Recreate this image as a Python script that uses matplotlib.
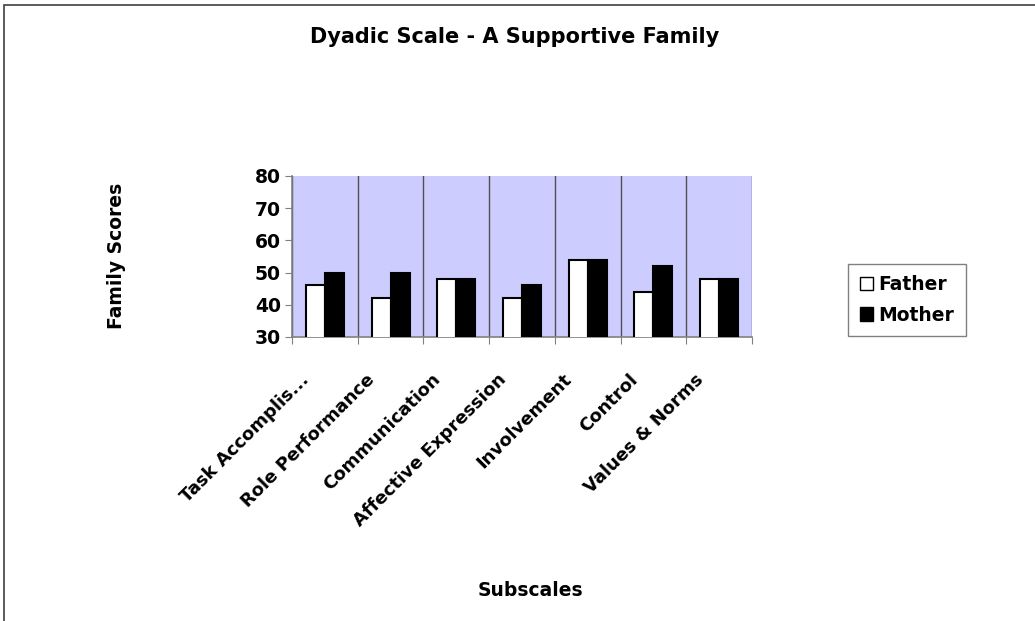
import matplotlib
matplotlib.use("Agg")
import matplotlib.pyplot as plt
import numpy as np
from matplotlib.patches import Patch, Rectangle

# DejaVu Sans Bold is close to the wide Arial rendering of the original
plt.rcParams["font.family"] = ["DejaVu Sans"]
plt.rcParams["font.weight"] = "bold"

# values
subscales = ["Task Accomplis...", "Role Performance", "Communication", "Affective Expression",
             "Involvement", "Control", "Values & Norms"]
father_scores = [46, 42, 48, 42, 54, 44, 48]
mother_scores = [50, 50, 48, 46, 54, 52, 48]
y_ticks = [30, 40, 50, 60, 70, 80]

W, H = 1035, 621
fig = plt.figure(figsize=(W / 100, H / 100), dpi=100)

# outer chart border (runs off the right and bottom edges like the original)
fig.patches.append(Rectangle((4 / W, -0.1), 1.2, 1 - 4.5 / H + 0.1, transform=fig.transFigure,
                             fill=False, edgecolor="#404040", linewidth=1.2))

ax = fig.add_axes([292 / W, 1 - 337 / H, 460 / W, 161 / H])
ax.set_facecolor("#CCCCFF")

x = np.arange(len(subscales))
bar_width = 0.29
ax.bar(x - bar_width / 2, father_scores, bar_width, color="white", edgecolor="black", linewidth=1.5, zorder=3)
ax.bar(x + bar_width / 2, mother_scores, bar_width, color="black", edgecolor="black", linewidth=1.5, zorder=3)

ax.set_xlim(-0.5, len(subscales) - 0.5)
ax.set_ylim(30, 80)
ax.set_yticks(y_ticks)
ax.set_yticklabels([str(t) for t in y_ticks], fontsize=13.5, fontweight="bold")

# category boundaries carry the tick marks and vertical gridlines
ax.set_xticks(np.arange(len(subscales) + 1) - 0.5)
ax.set_xticklabels([])
ax.tick_params(axis="x", length=5, color="#808080", direction="out")
ax.tick_params(axis="y", length=5, color="#808080", pad=3)
ax.grid(axis="x", color="#505050", linewidth=1)
ax.set_axisbelow(True)

# rotated category names, right end sitting a little left of the category centre
for xi, name in zip(x, subscales):
    ax.annotate(name, xy=(xi, 0), xycoords=("data", "axes fraction"), xytext=(-18, -24),
                textcoords="offset points", rotation=45, rotation_mode="anchor",
                ha="right", va="top", fontsize=13, fontweight="bold")

for side in ["top", "right"]:
    ax.spines[side].set_visible(False)
for side in ["left", "bottom"]:
    ax.spines[side].set_color("#808080")
    ax.spines[side].set_linewidth(1.2)

fig.text(515 / W, 1 - 37 / H, "Dyadic Scale - A Supportive Family", ha="center", va="center",
         fontsize=15, fontweight="bold")
fig.text(117 / W, 1 - 256 / H, "Family Scores", rotation=90, ha="center", va="center",
         fontsize=13.5, fontweight="bold")
fig.text(530 / W, 1 - 590 / H, "Subscales", ha="center", va="center", fontsize=13.5, fontweight="bold")

handles = [Patch(facecolor="white", edgecolor="black", linewidth=1),
           Patch(facecolor="black", edgecolor="black", linewidth=1)]
leg = fig.legend(handles, ["Father", "Mother"], loc="center", bbox_to_anchor=(907 / W, 1 - 300 / H),
                 fancybox=False, framealpha=1, edgecolor="#808080",
                 handlelength=0.7, handleheight=0.7, handletextpad=0.3, labelspacing=0.6,
                 borderpad=0.6, prop={"weight": "bold", "size": 13.5})
leg.get_frame().set_linewidth(1)

fig.savefig("out.png", dpi=100)
